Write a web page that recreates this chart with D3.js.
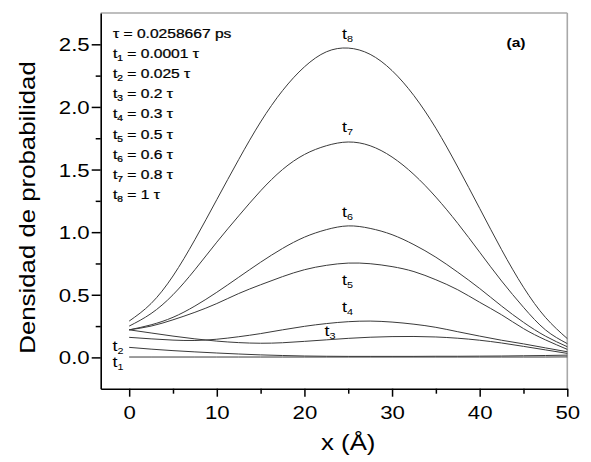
<!DOCTYPE html>
<html><head><meta charset="utf-8">
<script src="https://cdn.jsdelivr.net/npm/d3@7"></script>
<style>body{margin:0;background:#fff}svg{display:block}text{font-family:"Liberation Sans",Arial,sans-serif;fill:#000}</style>
</head><body><svg id="c" width="591" height="462"></svg>
<script>
const xVals = [0,2.5,5,7.5,10,12.5,15,17.5,20,22.5,25,27.5,30,32.5,35,37.5,40,42.5,45,47.5,50];
const t1 = [0.003,0.003,0.003,0.003,0.003,0.003,0.003,0.003,0.003,0.003,0.003,0.003,0.003,0.003,0.003,0.003,0.003,0.003,0.003,0.003,0.004];
const t2 = [0.08,0.066,0.054,0.044,0.035,0.027,0.02,0.015,0.011,0.009,0.008,0.008,0.008,0.008,0.009,0.009,0.01,0.011,0.013,0.015,0.018];
const t3 = [0.22,0.195,0.17,0.148,0.13,0.118,0.113,0.117,0.128,0.14,0.152,0.161,0.166,0.167,0.163,0.153,0.137,0.115,0.088,0.06,0.032];
const t4 = [0.16,0.148,0.138,0.135,0.145,0.165,0.19,0.22,0.248,0.27,0.285,0.29,0.282,0.265,0.24,0.205,0.17,0.137,0.108,0.076,0.045];
const t5 = [0.22,0.25,0.30,0.36,0.43,0.51,0.58,0.645,0.70,0.735,0.753,0.748,0.725,0.685,0.62,0.54,0.44,0.34,0.23,0.14,0.064];
const t6 = [0.22,0.26,0.32,0.41,0.52,0.64,0.76,0.87,0.96,1.02,1.05,1.03,0.98,0.90,0.80,0.68,0.55,0.41,0.28,0.17,0.085];
const t7 = [0.25,0.35,0.50,0.70,0.92,1.13,1.33,1.50,1.62,1.69,1.72,1.69,1.60,1.46,1.28,1.07,0.84,0.61,0.40,0.22,0.11];
const t8 = [0.29,0.43,0.65,0.94,1.26,1.58,1.88,2.13,2.32,2.44,2.47,2.42,2.29,2.09,1.83,1.52,1.19,0.86,0.56,0.32,0.15];
const seriesList = [t1,t2,t3,t4,t5,t6,t7,t8];
const xMajor = [0,10,20,30,40,50];
const xMinor = [5,15,25,35,45];
const yMajor = [0,0.5,1.0,1.5,2.0,2.5];
const yMinor = [0.25,0.75,1.25,1.75,2.25];
const legendLines = [["τ = 0.0258667 ps",null,""],["t","1"," = 0.0001 τ"],["t","2"," = 0.025 τ"],["t","3"," = 0.2 τ"],["t","4"," = 0.3 τ"],["t","5"," = 0.5 τ"],["t","6"," = 0.6 τ"],["t","7"," = 0.8 τ"],["t","8"," = 1 τ"]];
// curve labels: [subscript, x value, y value] in data coords
const curveLabels = [["8",24.3,2.54],["7",24.3,1.8],["6",24.3,1.12],["5",24.3,0.58],["4",24.3,0.365],["3",22.3,0.17],["2",-1.9,0.055],["1",-1.9,-0.075]];

const SX = 1.2;
const svg = d3.select("#c");
const x = d3.scaleLinear().domain([-3.25,50]).range([100.7,567.3]);
const y = d3.scaleLinear().domain([-0.25,2.75]).range([388.7,13]);

// frame top/right
svg.append("line").attr("x1",x(-3.25)).attr("x2",x(50)).attr("y1",y(2.75)).attr("y2",y(2.75)).attr("stroke","#a8a8a8").attr("stroke-width",1.6);
svg.append("line").attr("x1",x(50)).attr("x2",x(50)).attr("y1",y(2.75)).attr("y2",y(-0.25)).attr("stroke","#a8a8a8").attr("stroke-width",1.6);

// curves
const line = d3.line().x((d,i)=>x(xVals[i])).y(d=>y(d)).curve(d3.curveNatural);
seriesList.forEach(s=>{
  svg.append("path").attr("d",line(s)).attr("fill","none").attr("stroke","#3a3a3a").attr("stroke-width",1);
});

// axes
const gx = svg.append("g").attr("transform",`translate(0,${y(-0.25)})`);
gx.call(d3.axisBottom(x).tickValues(xMajor).tickSize(8).tickSizeOuter(0).tickFormat(d3.format("d")));
const gxm = svg.append("g").attr("transform",`translate(0,${y(-0.25)})`);
gxm.call(d3.axisBottom(x).tickValues(xMinor).tickSize(5).tickSizeOuter(0).tickFormat(""));
gxm.select(".domain").remove();
const gy = svg.append("g").attr("transform",`translate(${x(-3.25)},0)`);
gy.call(d3.axisLeft(y).tickValues(yMajor).tickSize(9).tickSizeOuter(0).tickFormat(d3.format(".1f")));
const gym = svg.append("g").attr("transform",`translate(${x(-3.25)},0)`);
gym.call(d3.axisLeft(y).tickValues(yMinor).tickSize(5).tickSizeOuter(0).tickFormat(""));
gym.select(".domain").remove();
[gx,gxm,gy,gym].forEach(g=>{
  g.selectAll(".domain").attr("stroke","#000").attr("stroke-width",1.6);
  g.selectAll(".tick line").attr("stroke","#000").attr("stroke-width",1.5);
});
gx.selectAll(".tick text").attr("y",null).attr("dy",null).attr("font-size",18.5).attr("font-family",null)
  .attr("transform",`translate(0,30) scale(${SX},1)`);
gy.selectAll(".tick text").attr("x",null).attr("dy",null).attr("font-size",18.5).attr("font-family",null)
  .attr("transform",`translate(-11,6.6) scale(${SX},1)`);

// axis titles
svg.append("text").attr("text-anchor","middle").attr("font-size",21.5)
  .attr("transform",`translate(${x(25)},450) scale(${SX},1)`).text("x (Å)");
svg.append("text").attr("text-anchor","middle").attr("font-size",21.5)
  .attr("transform",`translate(35,207.5) rotate(-90) scale(${SX},1)`).text("Densidad de probabilidad");

// legend
legendLines.forEach((l,i)=>{
  const t = svg.append("text").attr("font-size",13).attr("stroke","#000").attr("stroke-width",0.25)
    .attr("transform",`translate(113,${38+i*20.1}) scale(${SX},1)`);
  t.append("tspan").text(l[0]);
  if(l[1]){
    t.append("tspan").attr("font-size",8.5).attr("dy",3).text(l[1]);
    t.append("tspan").attr("dy",-3).text(l[2]);
  }
});
svg.append("text").attr("font-size",13).attr("font-weight","bold").attr("text-anchor","middle")
  .attr("transform",`translate(516,47) scale(${SX},1)`).text("(a)");

// curve labels
curveLabels.forEach(c=>{
  const t = svg.append("text").attr("font-size",15).attr("transform",`translate(${x(c[1])},${y(c[2])}) scale(${SX},1)`);
  t.append("tspan").text("t");
  t.append("tspan").attr("font-size",9).attr("dy",3).text(c[0]);
});
</script></body></html>
